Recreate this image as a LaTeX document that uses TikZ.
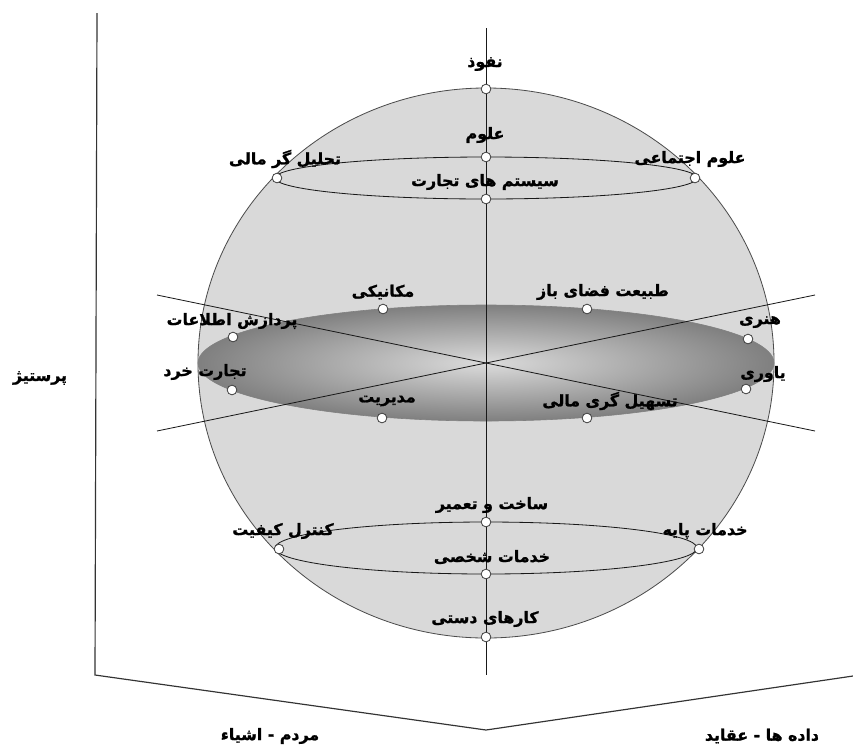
\documentclass[tikz,border=0pt]{standalone}
\usepackage{fontspec}
\TeXXeTstate=1
\newfontfamily\fafont[Script=Arabic, FakeBold=1.2]{DejaVu Sans Bold}
\newcommand\fatext[1]{\beginR #1\endR}
\definecolor{spherefill}{RGB}{217,217,217}
\begin{document}
\begin{tikzpicture}[x=0.03cm,y=-0.03cm,
  dot/.style={circle, draw=black!75, fill=white, minimum size=0.29cm, inner sep=0pt, line width=0.7pt},
  lab/.style={font=\fafont\fontsize{13.5}{15}\selectfont, inner sep=1pt},
  axis/.style={draw=black!80, line width=1pt},
  thin/.style={draw=black!90, line width=0.7pt}]
\useasboundingbox (0,0) rectangle (853,749);

% coordinates of the axes
\coordinate (axTop) at (97,13);
\coordinate (axCorner) at (95,675);
\coordinate (axApex) at (486,730);
\coordinate (axRight) at (853,676);
\coordinate (vTop) at (486,28);
\coordinate (vBot) at (486,675);
\coordinate (aL) at (157,295);
\coordinate (aR) at (815,431);
\coordinate (bL) at (157,431);
\coordinate (bR) at (815,295);

% sphere
\draw[fill=spherefill, draw=black!70, line width=0.7pt] (486,363) ellipse [x radius=8.64cm, y radius=8.25cm];
% middle shaded ellipse
\shade[inner color=black!14, outer color=black!50] (486,363) ellipse [x radius=8.64cm, y radius=1.74cm];
\draw[draw=black!50, line width=0.5pt] (486,363) ellipse [x radius=8.64cm, y radius=1.74cm];
% top and bottom ellipses
\draw[thin] (486,178) ellipse [x radius=6.33cm, y radius=0.63cm];
\draw[thin] (486,548) ellipse [x radius=6.33cm, y radius=0.78cm];

% axes
\draw[axis] (axTop) -- (axCorner) -- (axApex) -- (axRight);
\draw[thin] (vTop) -- (vBot);
\draw[thin] (aL) -- (aR);
\draw[thin] (bL) -- (bR);

% dots
\node[dot] (dNofuz) at (486,89) {};
\node[dot] (dOlum) at (486,157) {};
\node[dot] (dTahlil) at (277,178) {};
\node[dot] (dEjt) at (695,178) {};
\node[dot] (dSistem) at (486,199) {};
\node[dot] (dMek) at (383,309) {};
\node[dot] (dTab) at (587,309) {};
\node[dot] (dPard) at (233,337) {};
\node[dot] (dHon) at (748,339) {};
\node[dot] (dKhord) at (232,390) {};
\node[dot] (dYav) at (746,389) {};
\node[dot] (dMod) at (382,418) {};
\node[dot] (dTas) at (587,418) {};
\node[dot] (dSakht) at (486,522) {};
\node[dot] (dKont) at (279,549) {};
\node[dot] (dPaye) at (699,549) {};
\node[dot] (dShakh) at (486,574) {};
\node[dot] (dKar) at (486,637) {};

% labels
\node[lab] (tNofuz) at (485,64) {\fatext{نفوذ}};
\node[lab] (tOlum) at (485,135) {\fatext{علوم}};
\node[lab] (tTahlil) at (285,159) {\fatext{تحلیل گر مالی}};
\node[lab] (tEjt) at (690,159) {\fatext{علوم اجتماعی}};
\node[lab] (tSistem) at (485,182) {\fatext{سیستم های تجارت}};
\node[lab] (tMek) at (383,292) {\fatext{مکانیکی}};
\node[lab] (tTab) at (603,292) {\fatext{طبیعت فضای باز}};
\node[lab] (tPard) at (232,321) {\fatext{پردازش اطلاعات}};
\node[lab] (tHon) at (760,322) {\fatext{هنری}};
\node[lab] (tKhord) at (205,372) {\fatext{تجارت خرد}};
\node[lab] (tYav) at (763,374) {\fatext{یاوری}};
\node[lab] (tMod) at (387,401) {\fatext{مدیریت}};
\node[lab] (tTas) at (610,401) {\fatext{تسهیل گری مالی}};
\node[lab] (tSakht) at (492,505) {\fatext{ساخت و تعمیر}};
\node[lab] (tKont) at (283,531) {\fatext{کنترل کیفیت}};
\node[lab] (tPaye) at (705,531) {\fatext{خدمات پایه}};
\node[lab] (tShakh) at (492,557) {\fatext{خدمات شخصی}};
\node[lab] (tKar) at (485,619) {\fatext{کارهای دستی}};
\node[lab] (tPrestige) at (40,378) {\fatext{پرستیژ}};
\node[lab] (tMardom) at (270,736) {\fatext{مردم - اشیاء}};
\node[lab] (tDade) at (762,736) {\fatext{داده ها - عقاید}};
\end{tikzpicture}
\end{document}
